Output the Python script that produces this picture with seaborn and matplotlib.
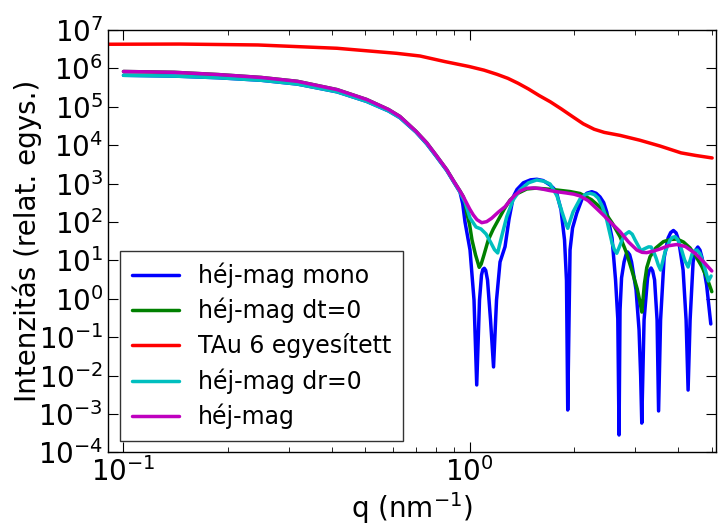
import numpy as np
import pandas as pd
import matplotlib
matplotlib.use("Agg")
import matplotlib.pyplot as plt
import seaborn as sns

# ---------------- data ----------------
# common low-q part of the model curves
q_common = [0.1, 0.14, 0.188, 0.25, 0.318, 0.414, 0.504, 0.583, 0.629, 0.70, 0.752,
            0.80, 0.859, 0.90, 0.938]
I_common_low = [6.6e5, 6.3e5, 5.7e5, 4.9e5, 3.9e5, 2.45e5, 1.38e5, 7.8e4, 5.2e4, 2.2e4,
                1.08e4, 5.2e3, 2.2e3, 1.1e3, 600]
I_common_high = [8.3e5, 7.9e5, 6.9e5, 5.8e5, 4.6e5, 2.8e5, 1.55e5, 8.5e4, 5.6e4, 2.3e4,
                 1.15e4, 5.5e3, 2.3e3, 1.15e3, 640]

# héj-mag mono (blue)
q_mono = [0.955, 0.9699, 1.0027, 1.0297, 1.0484, 1.0681, 1.0824, 1.092, 1.1026, 1.113,
          1.1265, 1.1493, 1.1725, 1.1961, 1.2243, 1.2657, 1.30, 1.3375, 1.37, 1.43,
          1.50, 1.5633, 1.63, 1.7078, 1.75, 1.7853, 1.837, 1.8803, 1.905, 1.9208,
          1.9505, 1.9833, 2.0395, 2.1127, 2.18, 2.2536, 2.32, 2.3816, 2.44, 2.4901,
          2.5794, 2.6402, 2.68, 2.7024, 2.72, 2.7478, 2.7938, 2.83, 2.8596, 2.90,
          2.9368, 3.0262, 3.0873, 3.12, 3.1433, 3.1918, 3.2671, 3.30, 3.3441, 3.38,
          3.4229, 3.4804, 3.5153, 3.5624, 3.6464, 3.7451, 3.81, 3.8797, 3.95, 4.0161,
          4.1381, 4.2215, 4.2782, 4.3355, 4.4229, 4.49, 4.5637, 4.63, 4.6961, 4.8388,
          4.9753]
I_mono = [300, 100, 18.7, 0.93, 5.7e-3, 0.93, 4.17, 5.8, 6.22, 5.5,
          3.09, 0.281, 0.0168, 0.93, 9.1, 22.7, 120, 456, 700, 1050,
          1250, 1295, 1200, 920, 750, 559, 205, 34, 3.0, 1.27e-3,
          18.7, 69.8, 169, 397, 560, 615, 560, 448, 320, 182,
          38.3, 3.09, 0.3, 2.84e-4, 0.5, 3.5, 9.1, 14, 16.6, 14,
          9.1, 1.7, 0.154, 0.01, 5.8e-4, 0.281, 3.48, 5.3, 6.34, 5.3,
          3.09, 0.281, 1.2e-3, 0.281, 11.5, 38.3, 53, 60.1, 52, 34,
          5.62, 0.281, 4.2e-3, 0.281, 9.1, 18, 22.3, 18.5, 11.5, 2.29,
          0.221]

# héj-mag dt=0 (green)
q_dt0 = [0.959, 0.9699, 0.981, 1.0, 1.016, 1.04, 1.066, 1.08, 1.10, 1.132,
         1.17, 1.210, 1.26, 1.309, 1.38, 1.462, 1.55, 1.65, 1.785, 1.95,
         2.085, 2.25, 2.434, 2.58, 2.721, 2.83, 2.941, 3.05, 3.10, 3.145,
         3.20, 3.25, 3.322, 3.45, 3.629, 3.8, 3.976, 4.15, 4.335, 4.5,
         4.688, 4.85, 5.009]
I_dt0 = [456, 330, 171, 85, 34, 14, 6.6, 8, 13.8, 34,
         65, 113, 220, 374, 560, 723, 760, 730, 681, 620,
         552, 380, 205, 95, 41.4, 17, 5.6, 1.8, 0.9, 0.45,
         2.5, 6.5, 12.5, 21, 30.7, 35, 36, 30, 21, 13,
         6.9, 3.5, 1.53]

# TAu 6 egyesített (red, measured)
q_meas = [0.0902, 0.1456, 0.2446, 0.4138, 0.6143, 0.719, 0.849, 0.996, 1.10, 1.20,
          1.29, 1.38, 1.48, 1.59, 1.71, 1.84, 1.98, 2.13, 2.29, 2.45,
          2.72, 3.1, 3.55, 4.083, 4.5, 5.02]
I_meas = [4.25e6, 4.3e6, 4.07e6, 3.34e6, 2.47e6, 2.1e6, 1.5e6, 1.12e6, 9.0e5, 7.0e5,
          5.5e5, 4.1e5, 2.9e5, 1.95e5, 1.35e5, 8.8e4, 5.6e4, 3.6e4, 2.6e4, 2.15e4,
          1.8e4, 1.35e4, 9.5e3, 6.3e3, 5.4e3, 4.65e3]

# héj-mag dr=0 (cyan)
q_dr0 = [0.955, 0.9699, 1.0027, 1.0435, 1.0788, 1.1154, 1.153, 1.18, 1.2055, 1.22,
         1.2406, 1.2800, 1.3353, 1.3982, 1.48, 1.5633, 1.64, 1.7078, 1.7889, 1.8494,
         1.89, 1.9208, 1.95, 1.9899, 2.0846, 2.16, 2.2283, 2.29, 2.3499, 2.42,
         2.4901, 2.5794, 2.62, 2.6613, 2.70, 2.7573, 2.82, 2.8886, 2.95, 3.0063,
         3.07, 3.1287, 3.18, 3.2346, 3.29, 3.3441, 3.40, 3.4573, 3.51, 3.5624,
         3.61, 3.6707, 3.7952, 3.86, 3.9237, 3.99, 4.0565, 4.1797, 4.2782, 4.3935,
         4.47, 4.5422, 4.63, 4.7272, 4.8967, 4.9853]
I_dr0 = [430, 332, 127, 74, 65.7, 48.7, 28.4, 19, 15.6, 25,
         45.8, 137, 374, 681, 1050, 1241, 1150, 977, 475, 182,
         100, 68.5, 105, 182, 397, 520, 559, 520, 422, 250,
         113, 28.4, 19, 15.3, 21, 34, 48, 55.9, 48, 34,
         24, 17.6, 19.5, 21, 22.5, 22.3, 17, 11.5, 7.5, 5.62,
         9, 16.6, 34, 40, 41.4, 35, 25.2, 10.2, 6.73, 14.7,
         18, 18.7, 15, 9.1, 2.91, 3.92]

# héj-mag (magenta)
q_full = [0.959, 0.970, 1.0, 1.025, 1.05, 1.084, 1.12, 1.158, 1.21, 1.266,
          1.31, 1.353, 1.40, 1.462, 1.53, 1.60, 1.70, 1.785, 1.90, 2.0,
          2.085, 2.20, 2.32, 2.434, 2.58, 2.721, 2.88, 3.041, 3.15, 3.250,
          3.40, 3.550, 3.75, 3.969, 4.2, 4.482, 4.75, 5.009]
I_full = [456, 374, 220, 152, 115, 95.9, 102, 125, 180, 250,
          370, 505, 640, 755, 770, 740, 660, 615, 570, 530,
          475, 360, 230, 152, 90, 55.9, 30, 18.7, 16.2, 15.9,
          17.5, 19.8, 24, 25.9, 23, 15.3, 9, 5.3]

labels = ["héj-mag mono", "héj-mag dt=0", "TAu 6 egyesített", "héj-mag dr=0", "héj-mag"]
colors = ["#0000ff", "#008000", "#ff0000", "#00bfbf", "#bf00bf"]

series = [
    (q_common + q_mono, I_common_low + I_mono),
    (q_common + q_dt0, I_common_high + I_dt0),
    (q_meas, I_meas),
    (q_common + q_dr0, I_common_low + I_dr0),
    (q_common + q_full, I_common_high + I_full),
]

frames = []
for lab, (qq, ii) in zip(labels, series):
    frames.append(pd.DataFrame({"q": qq, "I": ii, "series": lab}))
df = pd.concat(frames, ignore_index=True)

# ---------------- plot ----------------
sns.set_style("ticks")
plt.rcParams["font.family"] = ["DejaVu Sans"]
plt.rcParams.update({
    "xtick.direction": "in", "ytick.direction": "in",
    "xtick.top": True, "ytick.right": True,
    "xtick.major.size": 7, "ytick.major.size": 7,
    "xtick.minor.size": 3.5, "ytick.minor.size": 3.5,
    "xtick.color": "black", "ytick.color": "black",
    "text.color": "black", "axes.labelcolor": "black",
    "axes.edgecolor": "black",
    "mathtext.default": "regular",
})

fig = plt.figure(figsize=(7.19, 5.25), dpi=100)
ax = fig.add_axes([0.1502, 0.1383, 0.8456, 0.8046])

sns.lineplot(data=df, x="q", y="I", hue="series", hue_order=labels, palette=colors,
             sort=False, estimator=None, linewidth=2.5, ax=ax)

ax.set_xscale("log")
ax.set_yscale("log")
ax.set_xlim(0.0902, 5.15)
ax.set_ylim(1e-4, 1e7)
ax.set_yticks([10.0 ** k for k in range(-4, 8)])
ax.tick_params(labelsize=20, colors="black")
ax.set_xlabel("q (nm$^{-1}$)", fontsize=20, labelpad=2)
ax.set_ylabel("Intenzitás (relat. egys.)", fontsize=20, labelpad=-3)
for s in ax.spines.values():
    s.set_color("black")
    s.set_linewidth(1)

leg = ax.legend(loc="lower left", bbox_to_anchor=(0.02, 0.027), borderaxespad=0,
                fontsize=17, frameon=True, fancybox=False, edgecolor="black",
                handlelength=2.0, handletextpad=0.8, labelspacing=0.42, borderpad=0.5)
leg.get_frame().set_linewidth(1)
for line in leg.get_lines():
    line.set_linewidth(2.5)

fig.savefig("out.png", dpi=100)
